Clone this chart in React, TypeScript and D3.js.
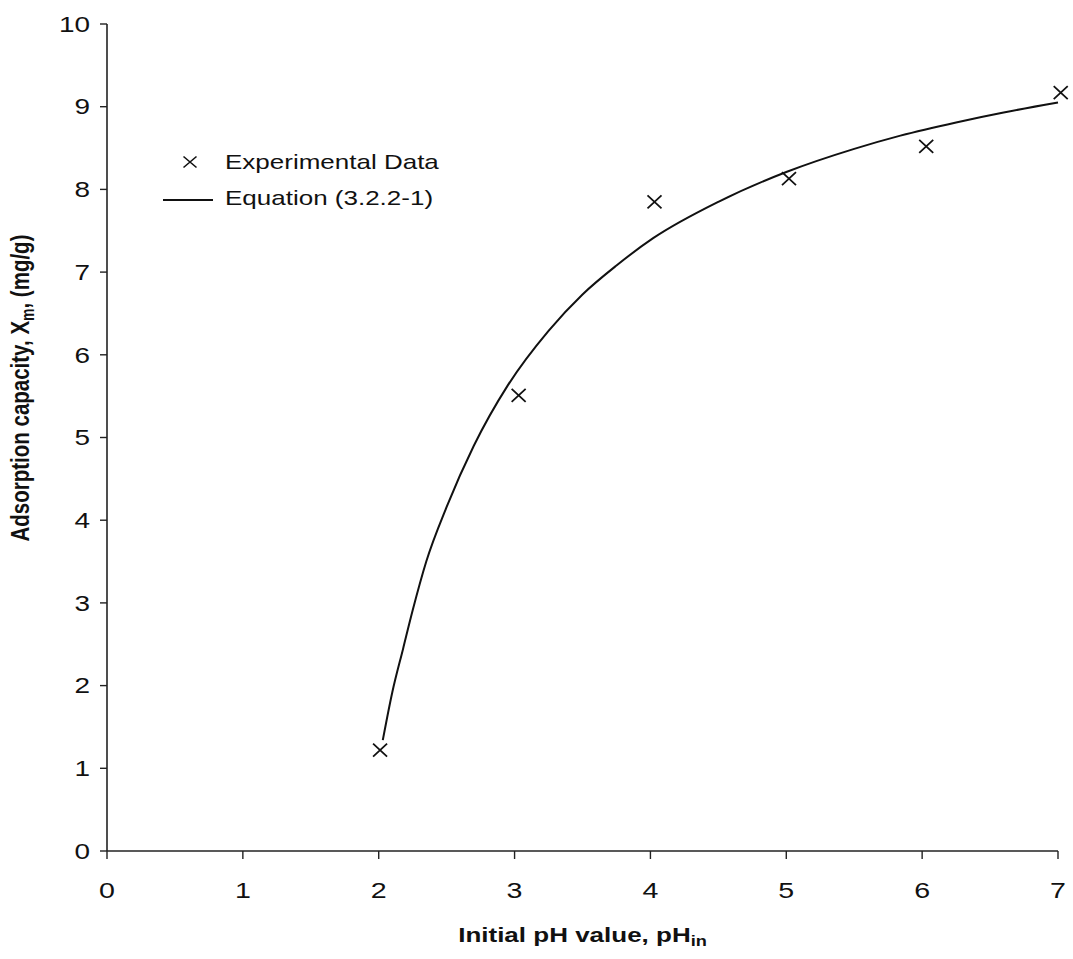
import React from "react";
import * as d3 from "d3";

const xTicks = [0, 1, 2, 3, 4, 5, 6, 7];
const yTicks = [0, 1, 2, 3, 4, 5, 6, 7, 8, 9, 10];

const expPH = [2.01, 3.03, 4.03, 5.02, 6.03, 7.02];
const expX = [1.22, 5.51, 7.85, 8.13, 8.52, 9.17];

// Equation (3.2.2-1) curve
const eqPH = [2.03, 2.1, 2.18, 2.25, 2.35, 2.5, 2.7, 2.95, 3.25, 3.5, 3.75, 4.02, 4.5, 5.0, 5.5, 5.84, 6.25, 6.6, 7.0];
const eqX = [1.34, 1.92, 2.45, 2.91, 3.5, 4.16, 4.9, 5.63, 6.29, 6.73, 7.08, 7.41, 7.85, 8.21, 8.49, 8.65, 8.81, 8.93, 9.05];

const W = 1073;
const H = 959;
const FONT = "'Liberation Sans', Arial, sans-serif";
const SX = 1.3; // horizontal stretch of the text in the picture

export default function App() {
  const x = d3.scaleLinear().domain([0, 7]).range([107, 1058]);
  const y = d3.scaleLinear().domain([0, 10]).range([851, 24]);

  const line = d3
    .line<number>()
    .x((_, i) => x(eqPH[i]))
    .y((d) => y(d))
    .curve(d3.curveMonotoneX);

  const cross = (cx: number, cy: number, rx: number, ry: number) =>
    `M${cx - rx},${cy - ry}L${cx + rx},${cy + ry}M${cx - rx},${cy + ry}L${cx + rx},${cy - ry}`;

  const x0 = x(0);
  const y0 = y(0);

  return (
    <svg
      width={W}
      height={H}
      style={{ position: "absolute", left: 0, top: 0, background: "#fff" }}
      fontFamily={FONT}
    >
      {/* axes */}
      <line x1={x0} x2={x(7)} y1={y0} y2={y0} stroke="#222" strokeWidth={1.6} />
      <line x1={x0} x2={x0} y1={y(10)} y2={y0} stroke="#222" strokeWidth={1.6} />
      {yTicks.map((t) => (
        <g key={"y" + t}>
          <line x1={x0 - 7} x2={x0} y1={y(t)} y2={y(t)} stroke="#222" strokeWidth={1.4} />
          <text
            transform={`translate(${x0 - 17},${y(t)}) scale(${SX},1)`}
            dy="0.36em"
            textAnchor="end"
            fontSize={21.5}
            fill="#111"
          >
            {t}
          </text>
        </g>
      ))}
      {xTicks.map((t) => (
        <g key={"x" + t}>
          <line x1={x(t)} x2={x(t)} y1={y0} y2={y0 + 8} stroke="#222" strokeWidth={1.4} />
          <text
            transform={`translate(${x(t)},898) scale(${SX},1)`}
            textAnchor="middle"
            fontSize={22}
            fill="#111"
          >
            {t}
          </text>
        </g>
      ))}

      {/* curve */}
      <path d={line(eqX) || ""} fill="none" stroke="#111" strokeWidth={2} />

      {/* data points */}
      {expPH.map((p, i) => (
        <path
          key={"p" + i}
          d={cross(x(p), y(expX[i]), 7, 6.5)}
          stroke="#111"
          strokeWidth={1.8}
          fill="none"
        />
      ))}

      {/* legend */}
      <path d={cross(190, 162, 6.5, 5.5)} stroke="#111" strokeWidth={1.6} fill="none" />
      <text transform={`translate(225,169) scale(${SX},1)`} fontSize={20} fill="#111">
        Experimental Data
      </text>
      <line x1={163} x2={213} y1={200} y2={200} stroke="#111" strokeWidth={2} />
      <text transform={`translate(225,205) scale(${SX},1)`} fontSize={20} fill="#111">
        Equation (3.2.2-1)
      </text>

      {/* axis titles */}
      <text
        transform={`translate(${(x0 + x(7)) / 2},942) scale(${SX},1)`}
        textAnchor="middle"
        fontSize={20}
        fontWeight="bold"
        fill="#111"
      >
        Initial pH value, pH
        <tspan fontSize={14} dy={4}>in</tspan>
      </text>
      <text
        transform={`translate(29,388) scale(${SX},1) rotate(-90)`}
        textAnchor="middle"
        fontSize={20.5}
        fontWeight="bold"
        fill="#111"
      >
        Adsorption capacity, X
        <tspan fontSize={14} dy={4}>m</tspan>
        <tspan dy={-4}>, (mg/g)</tspan>
      </text>
    </svg>
  );
}
